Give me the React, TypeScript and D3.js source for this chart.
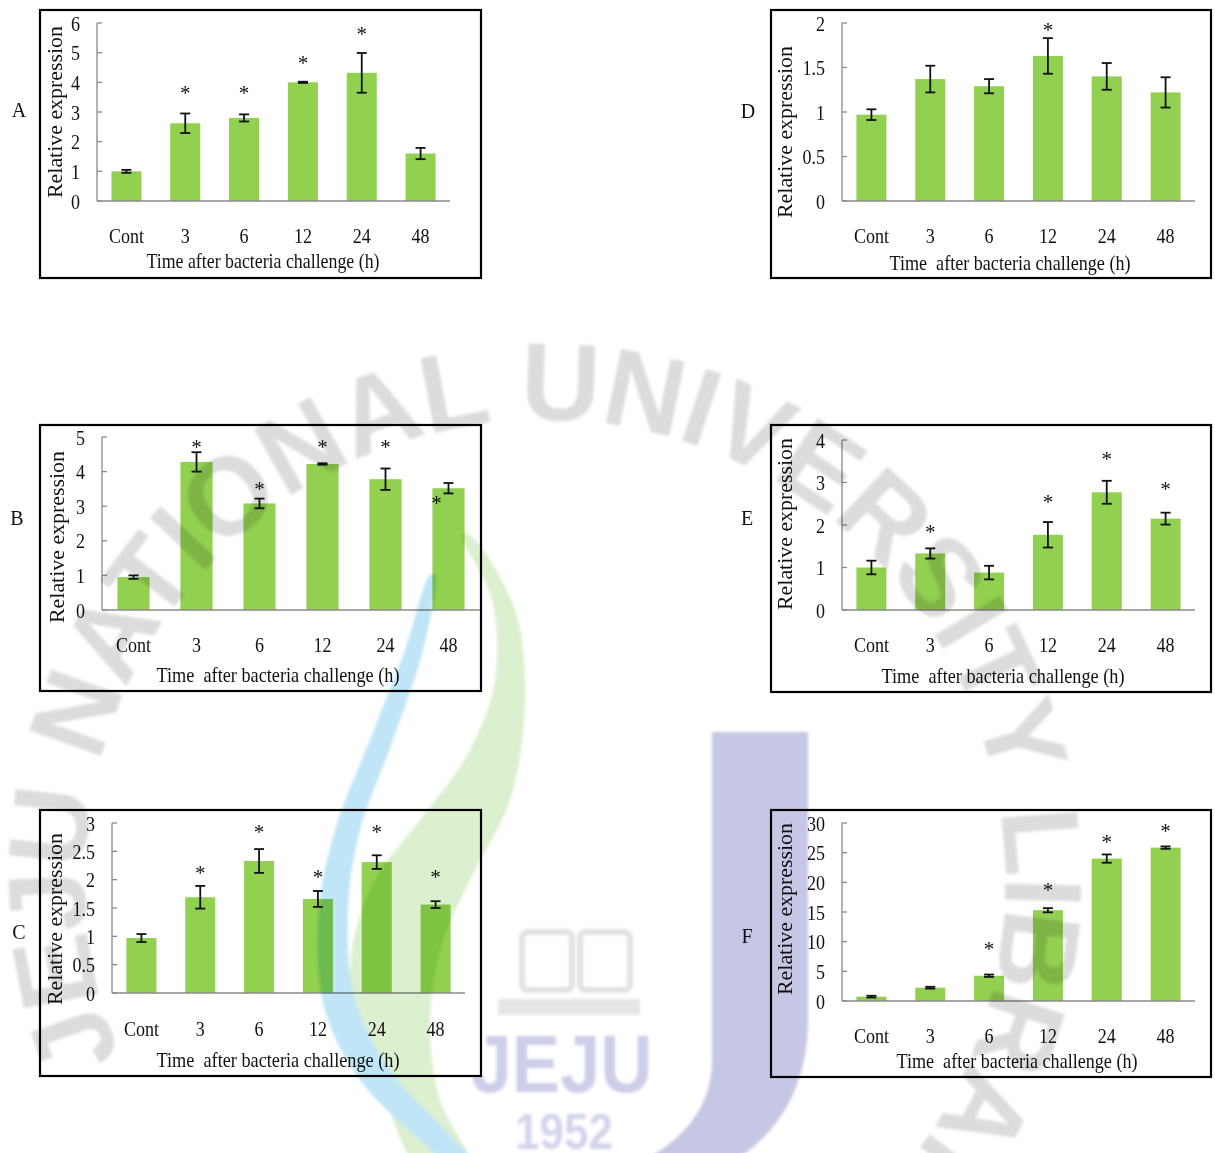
import React from 'react';
import * as d3 from 'd3';

// ---------- data ----------
const categories = ["Cont", "3", "6", "12", "24", "48"];

const meanA = [1.0, 2.62, 2.8, 4.0, 4.32, 1.6];
const errA = [0.05, 0.33, 0.12, 0.02, 0.67, 0.19];
const starA = [null, 3.71, 3.71, 4.72, 5.7, null];

const meanB = [0.95, 4.28, 3.08, 4.22, 3.78, 3.52];
const errB = [0.05, 0.28, 0.14, 0.02, 0.31, 0.15];
const starB = [null, 4.77, 3.55, 4.77, 4.77, 3.15];
const starShiftB = [0, 0, 0, 0, 0, -0.19];

const meanC = [0.97, 1.69, 2.33, 1.66, 2.31, 1.56];
const errC = [0.07, 0.2, 0.21, 0.14, 0.12, 0.06];
const starC = [null, 2.15, 2.88, 2.08, 2.88, 2.08];

const meanD = [0.97, 1.37, 1.29, 1.63, 1.4, 1.22];
const errD = [0.06, 0.15, 0.08, 0.2, 0.15, 0.17];
const starD = [null, null, null, 1.94, null, null];

const meanE = [1.0, 1.33, 0.88, 1.77, 2.77, 2.15];
const errE = [0.16, 0.12, 0.16, 0.3, 0.27, 0.14];
const starE = [null, 1.88, null, 2.59, 3.6, 2.89];

const meanF = [0.73, 2.24, 4.26, 15.3, 24.0, 25.85];
const errF = [0.15, 0.15, 0.2, 0.35, 0.7, 0.2];
const starF = [null, null, 9.1, 19.0, 27.1, 29.0];

const yLabel = "Relative expression";
const xTitleA = "Time after bacteria challenge (h)";
const xTitleOther = "Time  after bacteria challenge (h)";

// ---------- layout ----------
const panels = [
  { letter: "A", mean: meanA, err: errA, star: starA, shift: null, yMax: 6, step: 1,
    box: [40, 10, 481, 278], ax: 97, x1: 450, yTop: 23, y0: 201, catBase: 243, titleBase: 268, titleX: 263, titleLen: 233, title: xTitleA,
    ylabX: 55, ylabY: 112, letterX: 19, letterY: 110 },
  { letter: "B", mean: meanB, err: errB, star: starB, shift: starShiftB, yMax: 5, step: 1,
    box: [40, 425, 481, 691], ax: 102, x1: 480, yTop: 437, y0: 610, catBase: 652, titleBase: 682, titleX: 278, titleLen: 243, title: xTitleOther,
    ylabX: 57, ylabY: 537, letterX: 17, letterY: 518 },
  { letter: "C", mean: meanC, err: errC, star: starC, shift: null, yMax: 3, step: 0.5,
    box: [40, 810, 481, 1076], ax: 112, x1: 465, yTop: 823, y0: 993, catBase: 1036, titleBase: 1067, titleX: 278, titleLen: 243, title: xTitleOther,
    ylabX: 55, ylabY: 919, letterX: 19, letterY: 932 },
  { letter: "D", mean: meanD, err: errD, star: starD, shift: null, yMax: 2, step: 0.5,
    box: [771, 10, 1211, 278], ax: 842, x1: 1195, yTop: 23, y0: 201, catBase: 243, titleBase: 270, titleX: 1010, titleLen: 241, title: xTitleOther,
    ylabX: 785, ylabY: 132, letterX: 748, letterY: 111 },
  { letter: "E", mean: meanE, err: errE, star: starE, shift: null, yMax: 4, step: 1,
    box: [771, 425, 1211, 692], ax: 842, x1: 1195, yTop: 440, y0: 610, catBase: 652, titleBase: 683, titleX: 1003, titleLen: 243, title: xTitleOther,
    ylabX: 785, ylabY: 524, letterX: 747, letterY: 518 },
  { letter: "F", mean: meanF, err: errF, star: starF, shift: null, yMax: 30, step: 5,
    box: [771, 810, 1211, 1077], ax: 842, x1: 1195, yTop: 823, y0: 1001, catBase: 1043, titleBase: 1068, titleX: 1017, titleLen: 241, title: xTitleOther,
    ylabX: 785, ylabY: 909, letterX: 747, letterY: 936 },
];

const SERIF = '"Liberation Serif", "Times New Roman", serif';
const SANS = '"Liberation Sans", Arial, sans-serif';
const BAR = "#92D050";
const AXIS = "#8a8a8a";

function BarPanel({ p }: { p: any }) {
  const x = d3.scaleBand<string>().domain(categories).range([p.ax, p.x1]).paddingInner(0.49).paddingOuter(0.245);
  const y = d3.scaleLinear().domain([0, p.yMax]).range([p.y0, p.yTop]);
  const ticks = d3.range(0, p.yMax + p.step / 2, p.step);
  const fmt = d3.format("~g");
  const [bx0, by0, bx1, by1] = p.box;
  return (
    <g>
      <rect x={bx0} y={by0} width={bx1 - bx0} height={by1 - by0} fill="white" stroke="#000" strokeWidth={2.2} />
      <line x1={p.ax} x2={p.ax} y1={y(p.yMax)} y2={y(0)} stroke={AXIS} strokeWidth={1.3} />
      {ticks.map((t: number) => (
        <g key={t}>
          <line x1={p.ax} x2={p.ax + 5} y1={y(t)} y2={y(t)} stroke={AXIS} strokeWidth={1.3} />
          <text transform={`translate(${p.ax - 17},${y(t) + 7.5}) scale(0.82,1)`} textAnchor="end" fontFamily={SERIF} fontSize={22} fill="#111">{fmt(t)}</text>
        </g>
      ))}
      {categories.map((c, i) => {
        const v = p.mean[i];
        const e = p.err[i];
        const cx = (x(c) as number) + x.bandwidth() / 2;
        return (
          <g key={c}>
            <rect x={x(c)} y={y(v)} width={x.bandwidth()} height={y(0) - y(v)} fill={BAR} />
            <line x1={cx} x2={cx} y1={y(v + e)} y2={y(v - e)} stroke="#111" strokeWidth={1.8} />
            <line x1={cx - 5} x2={cx + 5} y1={y(v + e)} y2={y(v + e)} stroke="#111" strokeWidth={1.8} />
            <line x1={cx - 5} x2={cx + 5} y1={y(v - e)} y2={y(v - e)} stroke="#111" strokeWidth={1.8} />
            {p.star[i] != null && (
              <text x={cx + (p.shift ? p.shift[i] * x.step() : 0)} y={y(p.star[i]) + 9} textAnchor="middle" fontFamily={SERIF} fontSize={21} fill="#111">*</text>
            )}
            <text transform={`translate(${cx},${p.catBase}) scale(0.82,1)`} textAnchor="middle" fontFamily={SERIF} fontSize={22} fill="#111">{c}</text>
          </g>
        );
      })}
      <line x1={p.ax} x2={p.x1} y1={y(0)} y2={y(0)} stroke={AXIS} strokeWidth={1.3} />
      <text x={p.titleX} y={p.titleBase} textAnchor="middle" fontFamily={SERIF} fontSize={22} fill="#111"
        textLength={p.titleLen} lengthAdjust="spacingAndGlyphs" style={{ whiteSpace: "pre" }}>{p.title}</text>
      <text transform={`translate(${p.ylabX + 7},${p.ylabY}) rotate(-90)`} textAnchor="middle" fontFamily={SERIF} fontSize={21} fill="#111"
        textLength={172} lengthAdjust="spacingAndGlyphs">{yLabel}</text>
      <text x={p.letterX} y={p.letterY + 7} textAnchor="middle" fontFamily={SERIF} fontSize={20} fill="#111">{p.letter}</text>
    </g>
  );
}

// ---------- watermark ----------
const ringCx = 545, ringCy = 880, ringR = 460;
const ringText = "JEJU NATIONAL UNIVERSITY LIBRARY";
const blueLeft: [number, number][] = [[430, 575], [405, 650], [370, 740], [335, 830], [318, 920], [325, 1010], [360, 1080], [420, 1140], [455, 1168]];
const blueRight: [number, number][] = [[478, 1168], [445, 1130], [390, 1070], [355, 1000], [348, 910], [360, 830], [393, 740], [423, 650], [435, 575]];
const greenLeft: [number, number][] = [[462, 535], [492, 600], [495, 680], [470, 750], [420, 820], [375, 880], [352, 950], [355, 1030], [385, 1100], [420, 1168]];
const greenRight: [number, number][] = [[470, 1168], [440, 1100], [430, 1030], [440, 950], [470, 880], [510, 800], [525, 700], [515, 610], [470, 535]];

function Watermark() {
  const closed = d3.line().curve(d3.curveCatmullRomClosed.alpha(0.5));
  const ringD = `M ${ringCx},${ringCy + ringR} A ${ringR},${ringR} 0 1 1 ${ringCx},${ringCy - ringR} A ${ringR},${ringR} 0 1 1 ${ringCx},${ringCy + ringR}`;
  return (
    <g style={{ mixBlendMode: "multiply" }} filter="url(#wmBlur)">
      <defs>
        <path id="ringPath" d={ringD} fill="none" />
        <filter id="wmBlur" x="-5%" y="-5%" width="110%" height="110%">
          <feGaussianBlur stdDeviation={1.6} />
        </filter>
      </defs>
      <text fontFamily={SANS} fontWeight={700} fontSize={110} letterSpacing={-1} fill="#dcdcdc">
        <textPath href="#ringPath" startOffset={540}>{ringText}</textPath>
      </text>
      <path d={closed([...greenLeft, ...greenRight]) as string} fill="#dcefcf" />
      <path d={closed([...blueLeft, ...blueRight]) as string} fill="#bfe5f7" />
      <path d="M712,732 H808 V1020 C808,1095 770,1150 705,1175 H610 C680,1150 712,1110 712,1060 Z" fill="#c6c7e4" />
      <rect x={522} y={932} width={50} height={58} rx={6} fill="none" stroke="#e2e2e2" strokeWidth={6} />
      <rect x={580} y={932} width={50} height={58} rx={6} fill="none" stroke="#e2e2e2" strokeWidth={6} />
      <rect x={498} y={999} width={142} height={16} fill="#e6e6e6" />
      <text x={562} y={1092} textAnchor="middle" fontFamily={SANS} fontWeight={700} fontSize={82}
        fill="#cdcee9" textLength={181} lengthAdjust="spacingAndGlyphs">JEJU</text>
      <text x={564} y={1149} textAnchor="middle" fontFamily={SANS} fontWeight={700} fontSize={50}
        fill="#d3d4ec" textLength={98} lengthAdjust="spacingAndGlyphs">1952</text>
    </g>
  );
}

export default function App() {
  return (
    <svg width={1215} height={1153} viewBox="0 0 1215 1153"
      style={{ position: "absolute", left: 0, top: 0, background: "white", display: "block" }}>
      <rect x={0} y={0} width={1215} height={1153} fill="white" />
      {panels.map((p) => <BarPanel key={p.letter} p={p} />)}
      <Watermark />
    </svg>
  );
}
